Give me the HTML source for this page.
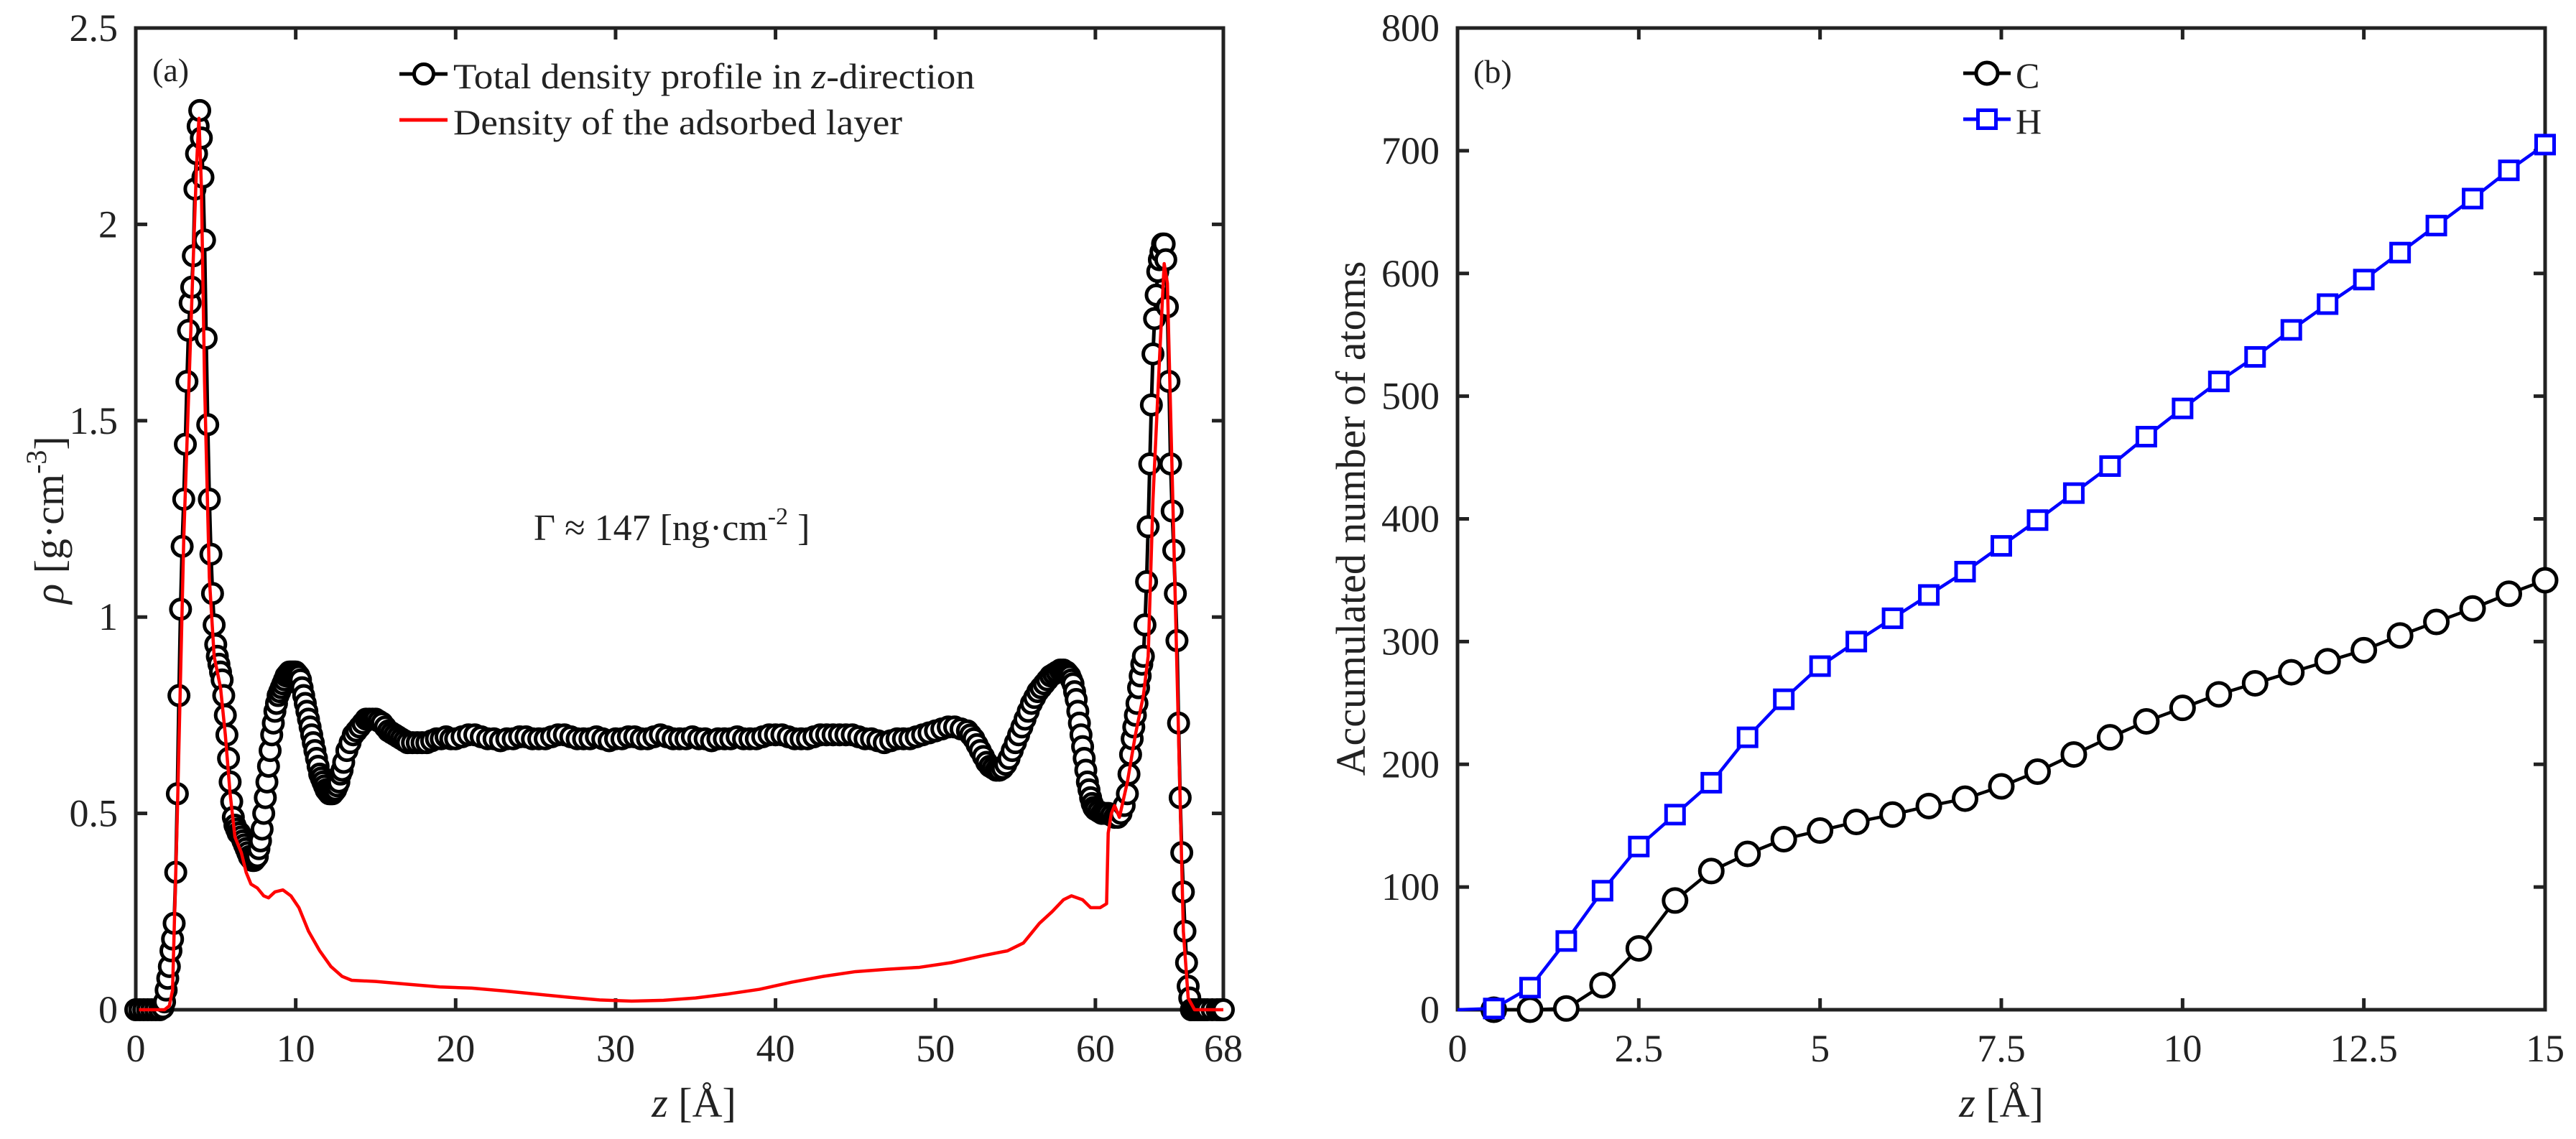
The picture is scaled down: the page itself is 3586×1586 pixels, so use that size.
<!DOCTYPE html>
<html><head><meta charset="utf-8">
<style>
html,body{margin:0;padding:0;background:#fff;}
svg{display:block;}
text{font-family:"Liberation Serif",serif;fill:#222;}
</style></head>
<body>
<svg id="fig" width="3586" height="1586" viewBox="0 0 3586 1586" xmlns="http://www.w3.org/2000/svg">
<rect width="3586" height="1586" fill="#fff"/>
<g id="panelA"></g>
<g id="panelB"></g>
</svg>
<script>
// ---------- Panel (a) data ----------
const totalZ = [
0,0.25,0.5,0.75,1,1.25,1.5,1.7,1.8,1.9,
2.0,2.1,2.2,2.3,2.4,2.5,2.6,2.7,2.8,2.9,
3.0,3.1,3.2,3.3,3.4,3.5,3.6,3.7,3.8,3.9,
4.0,4.1,4.2,4.3,4.4,4.5,4.6,4.7,4.8,4.9,
5.0,5.1,5.2,5.3,5.4,5.5,5.6,5.7,5.8,5.9,
6.0,6.1,6.2,6.3,6.4,6.5,6.6,6.7,6.8,6.9,
7.0,7.1,7.2,7.3,7.4,7.5,7.6,7.7,7.8,7.9,
8.0,8.1,8.2,8.3,8.4,8.5,8.6,8.7,8.8,8.9,
9.0,9.1,9.2,9.3,9.4,9.5,9.6,9.7,9.8,9.9,
10.0,10.1,10.2,10.3,10.4,10.5,10.6,10.7,10.8,10.9,
11.0,11.1,11.2,11.3,11.4,11.5,11.6,11.7,11.8,11.9,
12.0,12.1,12.2,12.3,12.4,12.5,12.6,12.7,12.8,12.9,
13.0,13.2,13.4,13.6,13.8,14.0,14.2,14.4,14.6,14.8,
15.0,15.2,15.4,15.6,15.8,16.0,16.2,16.4,16.6,16.8,
17.0,17.3,17.6,17.9,18.2,18.5,18.8,19.1,19.4,19.7,
20,20.4,20.8,21.2,21.6,22,22.4,22.8,23.2,23.6,
24,24.4,24.8,25.2,25.6,26,26.4,26.8,27.2,27.6,
28,28.4,28.8,29.2,29.6,30,30.4,30.8,31.2,31.6,
32,32.4,32.8,33.2,33.6,34,34.4,34.8,35.2,35.6,
36,36.4,36.8,37.2,37.6,38,38.4,38.8,39.2,39.6,
40,40.4,40.8,41.2,41.6,42,42.4,42.8,43.2,43.6,
44,44.4,44.8,45.2,45.6,46,46.4,46.8,47.2,47.6,
48,48.4,48.8,49.2,49.6,50,50.4,50.8,51.2,51.6,
52,52.2,52.4,52.6,52.8,53,53.2,53.4,53.6,53.8,
54,54.2,54.4,54.6,54.8,55,55.2,55.4,55.6,55.8,
56,56.2,56.4,56.6,56.8,57,57.2,57.4,57.6,57.8,
58.0,58.1,58.2,58.3,58.4,58.5,58.6,58.7,58.8,58.9,
59.0,59.1,59.2,59.3,59.4,59.5,59.6,59.7,59.8,59.9,
60,60.2,60.4,60.6,60.8,61,61.2,61.4,61.6,61.8,
62.0,62.1,62.2,62.3,62.4,62.5,62.6,62.7,62.8,62.9,
63.0,63.1,63.2,63.3,63.4,63.5,63.6,63.7,63.8,63.9,
64.0,64.1,64.2,64.3,64.4,64.5,64.6,64.7,64.8,64.9,
65.0,65.1,65.2,65.3,65.4,65.5,65.6,65.7,65.8,65.9,
66.0,66.2,66.4,66.6,66.8,67.0,67.3,67.6,67.8,68];
const totalRho = [
0,0,0,0,0,0,0,0.005,0.02,0.05,
0.08,0.11,0.15,0.18,0.22,0.35,0.55,0.8,1.02,1.18,
1.3,1.44,1.6,1.73,1.8,1.84,1.92,2.09,2.18,2.25,
2.29,2.22,2.12,1.96,1.71,1.49,1.3,1.16,1.06,0.98,
0.93,0.9,0.88,0.86,0.84,0.8,0.75,0.7,0.64,0.58,
0.53,0.49,0.47,0.46,0.45,0.45,0.44,0.43,0.42,0.41,
0.4,0.39,0.385,0.38,0.38,0.385,0.39,0.41,0.43,0.46,
0.5,0.54,0.58,0.62,0.66,0.7,0.73,0.76,0.78,0.8,
0.81,0.82,0.83,0.84,0.85,0.855,0.86,0.86,0.86,0.86,
0.86,0.855,0.85,0.84,0.82,0.8,0.78,0.76,0.74,0.72,
0.7,0.68,0.66,0.64,0.62,0.6,0.59,0.58,0.57,0.56,
0.555,0.55,0.55,0.55,0.555,0.56,0.57,0.58,0.6,0.61,
0.63,0.66,0.68,0.7,0.71,0.72,0.73,0.74,0.74,0.74,
0.74,0.735,0.73,0.72,0.71,0.705,0.7,0.695,0.69,0.685,
0.68,0.68,0.68,0.68,0.68,0.685,0.69,0.69,0.695,0.69,
0.69,0.695,0.7,0.7,0.695,0.69,0.69,0.685,0.69,0.69,
0.695,0.695,0.69,0.69,0.69,0.695,0.7,0.7,0.695,0.69,
0.69,0.69,0.695,0.69,0.685,0.69,0.69,0.695,0.695,0.69,
0.69,0.695,0.7,0.695,0.69,0.69,0.69,0.695,0.69,0.69,
0.685,0.69,0.69,0.69,0.695,0.69,0.69,0.69,0.695,0.7,
0.7,0.7,0.695,0.69,0.69,0.69,0.695,0.7,0.7,0.7,
0.7,0.7,0.7,0.695,0.69,0.69,0.685,0.68,0.685,0.69,
0.69,0.69,0.695,0.7,0.705,0.71,0.715,0.72,0.72,0.715,
0.71,0.7,0.69,0.675,0.66,0.645,0.63,0.62,0.615,0.61,
0.61,0.615,0.625,0.64,0.66,0.68,0.7,0.72,0.74,0.76,
0.78,0.795,0.81,0.82,0.83,0.84,0.85,0.855,0.86,0.865,
0.865,0.86,0.86,0.855,0.85,0.84,0.83,0.81,0.79,0.76,
0.73,0.7,0.67,0.64,0.61,0.58,0.56,0.54,0.525,0.515,
0.51,0.505,0.5,0.5,0.5,0.495,0.49,0.49,0.5,0.52,
0.55,0.6,0.65,0.69,0.72,0.75,0.78,0.82,0.85,0.88,
0.9,0.98,1.09,1.23,1.39,1.54,1.67,1.76,1.82,1.88,
1.91,1.93,1.95,1.95,1.91,1.79,1.6,1.39,1.27,1.17,
1.06,0.94,0.73,0.54,0.4,0.3,0.2,0.12,0.06,0.03,
0,0,0,0,0,0,0,0,0,0];
const adsZ = [
0.2,1.8,2.1,2.3,2.6,3.0,3.5,3.8,3.95,4.1,
4.3,4.6,4.9,5.3,5.6,5.9,6.2,6.6,6.9,7.2,
7.6,8.0,8.3,8.7,9.2,9.7,10.2,10.8,11.5,12.2,
12.9,13.5,15,17,19,21,23,25,27,29,
31,33,35,37,39,41,43,45,47,49,
51,53,54.5,55.5,56.5,57.3,58.0,58.5,59.2,59.7,
60.3,60.7,60.8,61.0,61.2,61.5,62.0,62.5,63.0,63.3,
63.6,64.0,64.3,64.5,64.9,65.2,65.5,65.8,66.2,68];
const adsRho = [
0,0,0.01,0.05,0.5,1.2,1.8,2.15,2.27,2.1,
1.6,1.1,0.9,0.82,0.7,0.55,0.44,0.4,0.35,0.32,
0.31,0.29,0.285,0.3,0.305,0.29,0.26,0.2,0.15,0.11,
0.085,0.075,0.072,0.065,0.058,0.055,0.048,0.04,0.032,0.025,
0.022,0.024,0.03,0.04,0.052,0.07,0.085,0.097,0.103,0.108,
0.12,0.138,0.15,0.17,0.22,0.25,0.28,0.29,0.28,0.26,
0.26,0.27,0.45,0.5,0.52,0.49,0.58,0.7,0.8,0.9,
1.3,1.65,1.9,1.85,1.2,0.7,0.2,0.03,0,0];
const aXTicks = [0,10,20,30,40,50,60,68];
const aYTicks = [0,0.5,1,1.5,2,2.5];
const aYTickLabels = ["0","0.5","1","1.5","2","2.5"];

// ---------- Panel (b) data ----------
const bZ = [0,0.5,1,1.5,2,2.5,3,3.5,4,4.5,5,5.5,6,6.5,7,7.5,8,8.5,9,9.5,10,10.5,11,11.5,12,12.5,13,13.5,14,14.5,15];
const carbon = [0,0,0,1,20,50,89,113,127,139,146,153,159,166,172,182,194,208,222,235,246,257,266,275,284,293,305,316,327,339,350];
const hydrogen = [0,1,18,56,97,133,159,185,222,253,280,300,319,338,357,378,399,421,443,467,490,512,532,554,575,595,617,639,661,684,705];
const bXTicks = [0,2.5,5,7.5,10,12.5,15];
const bXTickLabels = ["0","2.5","5","7.5","10","12.5","15"];
const bYTicks = [0,100,200,300,400,500,600,700,800];

const NS = "http://www.w3.org/2000/svg";
function mk(tag, attrs, parent){ const e=document.createElementNS(NS,tag); for(const k in attrs) e.setAttribute(k,attrs[k]); parent.appendChild(e); return e; }

const AX = "#222";
function drawAxes(g, L, R, T, B, sx, sy, xt, xl, yt, yl){
  const frame = mk('rect',{x:L,y:T,width:R-L,height:B-T,fill:'none',stroke:AX,'stroke-width':5},g);
  
  
  xt.forEach((v,i)=>{
    const x=sx(v);
    const t1=mk('line',{x1:x,y1:B,x2:x,y2:B-16,stroke:AX,'stroke-width':5},g);
    
    
    const t2=mk('line',{x1:x,y1:T,x2:x,y2:T+16,stroke:AX,'stroke-width':5},g);
    
    
    const lb=mk('text',{x:x,y:1478,'font-size':54,'text-anchor':'middle'},g);
    lb.textContent=xl[i];
    
    
  });
  yt.forEach((v,i)=>{
    const y=sy(v);
    const t1=mk('line',{x1:L,y1:y,x2:L+16,y2:y,stroke:AX,'stroke-width':5},g);
    
    
    const t2=mk('line',{x1:R,y1:y,x2:R-16,y2:y,stroke:AX,'stroke-width':5},g);
    
    
    const lb=mk('text',{x:L-25,y:y+18,'font-size':54,'text-anchor':'end'},g);
    lb.textContent=yl[i];
    
    
  });
}

// ---------- Panel (a) ----------
(function(){
  const g=document.getElementById('panelA');
  const L=189,R=1703,T=39,B=1406;
  const sx=v=>L+(v-0)/(68-0)*(R-L);
  const sy=v=>B-(v-0)/(2.5-0)*(B-T);
  drawAxes(g,L,R,T,B,sx,sy,aXTicks,aXTicks.map(String),aYTicks,aYTickLabels);
  const n=Math.min(totalZ.length,totalRho.length);
  const pts=totalZ.slice(0,n).map((z,i)=>sx(z)+','+sy(totalRho[i])).join(' ');
  const ln=mk('polyline',{points:pts,fill:'none',stroke:'#000','stroke-width':5},g);
  
  
  const mg=mk('g',{},g);
  
  
  for(let i=0;i<n;i++){
    const c=mk('circle',{cx:sx(totalZ[i]),cy:sy(totalRho[i]),r:13.5,fill:'#fff',stroke:'#000','stroke-width':5},mg);
    
    
  }
  const m=Math.min(adsZ.length,adsRho.length);
  const ap=adsZ.slice(0,m).map((z,i)=>sx(z)+','+sy(adsRho[i])).join(' ');
  const al=mk('polyline',{points:ap,fill:'none',stroke:'#ff0000','stroke-width':4.5,'stroke-linejoin':'round'},g);
  
  
  // legend
  const lg=mk('g',{},g);
  
  
  mk('line',{x1:556,y1:103,x2:623,y2:103,stroke:'#000','stroke-width':5},lg);
  mk('circle',{cx:590,cy:103,r:13.5,fill:'#fff',stroke:'#000','stroke-width':5},lg);
  const t1=mk('text',{x:631,y:123,'font-size':50,textLength:726,lengthAdjust:'spacingAndGlyphs'},lg);
  t1.innerHTML='Total density profile in <tspan font-style="italic">z</tspan>-direction';
  
  
  mk('line',{x1:556,y1:167,x2:623,y2:167,stroke:'#ff0000','stroke-width':5},lg);
  const t2=mk('text',{x:631,y:187,'font-size':50,textLength:625,lengthAdjust:'spacingAndGlyphs'},lg);
  t2.textContent='Density of the adsorbed layer';
  
  
  const pa=mk('text',{x:212,y:113,'font-size':46},g);
  pa.textContent='(a)';
  
  
  const an=mk('text',{x:743,y:752,'font-size':52},g);
  an.innerHTML='Γ ≈ 147 [ng·cm<tspan dy="-22" font-size="34">-2</tspan><tspan dy="22"> ]</tspan>';
  
  
  const xl=mk('text',{x:966,y:1555,'font-size':58,'text-anchor':'middle'},g);
  xl.innerHTML='<tspan font-style="italic">z</tspan> [Å]';
  
  
  const yl=mk('text',{x:0,y:0,'font-size':58,'text-anchor':'middle',transform:'translate(88,724) rotate(-90)'},g);
  yl.innerHTML='<tspan font-style="italic">ρ</tspan> [g·cm<tspan dy="-24" font-size="40">-3</tspan><tspan dy="24">]</tspan>';
  
  
})();

// ---------- Panel (b) ----------
(function(){
  const g=document.getElementById('panelB');
  const L=2029,R=3543,T=39,B=1406;
  const sx=v=>L+(v-0)/(15-0)*(R-L);
  const sy=v=>B-(v-0)/(800-0)*(B-T);
  drawAxes(g,L,R,T,B,sx,sy,bXTicks,bXTickLabels,bYTicks,bYTicks.map(String));
  const cp=bZ.map((z,i)=>sx(z)+','+sy(carbon[i])).join(' ');
  const cl=mk('polyline',{points:cp,fill:'none',stroke:'#000','stroke-width':4.5},g);
  
  
  bZ.forEach((z,i)=>{ if(i===0) return;
    const c=mk('circle',{cx:sx(z),cy:sy(carbon[i]),r:16,fill:'#fff',stroke:'#000','stroke-width':5},g);
    
    
  });
  const hp=bZ.map((z,i)=>sx(z)+','+sy(hydrogen[i])).join(' ');
  const hl=mk('polyline',{points:hp,fill:'none',stroke:'#0000ff','stroke-width':4.5},g);
  
  
  bZ.forEach((z,i)=>{ if(i===0) return;
    const s=mk('rect',{x:sx(z)-12.5,y:sy(hydrogen[i])-12.5,width:25,height:25,fill:'#fff',stroke:'#0000ff','stroke-width':5},g);
    
    
  });
  const lg=mk('g',{},g);
  
  
  mk('line',{x1:2733,y1:102,x2:2799,y2:102,stroke:'#000','stroke-width':5},lg);
  mk('circle',{cx:2766,cy:102,r:15,fill:'#fff',stroke:'#000','stroke-width':5},lg);
  const c1=mk('text',{x:2806,y:122,'font-size':50},lg);
  c1.textContent='C';
  
  
  mk('line',{x1:2733,y1:166,x2:2799,y2:166,stroke:'#0000ff','stroke-width':5},lg);
  mk('rect',{x:2753.5,y:153.5,width:25,height:25,fill:'#fff',stroke:'#0000ff','stroke-width':5},lg);
  const h1=mk('text',{x:2806,y:186,'font-size':50},lg);
  h1.textContent='H';
  
  
  const pb=mk('text',{x:2051,y:115,'font-size':46},g);
  pb.textContent='(b)';
  
  
  const xl=mk('text',{x:2786,y:1555,'font-size':58,'text-anchor':'middle'},g);
  xl.innerHTML='<tspan font-style="italic">z</tspan> [Å]';
  
  
  const yl=mk('text',{x:0,y:0,'font-size':58,'text-anchor':'middle',transform:'translate(1900,722) rotate(-90)'},g);
  yl.textContent='Accumulated number of atoms';
  
  
})();
</script>
</body></html>
